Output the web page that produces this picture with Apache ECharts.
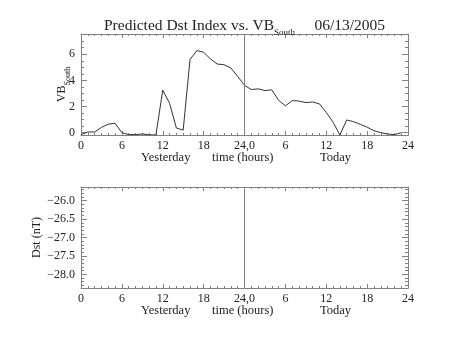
<!DOCTYPE html>
<html>
<head>
<meta charset="utf-8">
<script src="https://cdn.jsdelivr.net/npm/echarts@6/dist/echarts.min.js"></script>
<style>
  html, body { margin: 0; padding: 0; background: #fff; }
  #chart { width: 453px; height: 340px; }
</style>
</head>
<body>
<div id="chart"></div>
<script>
// Hours of the two-day window (yesterday 0-23, today 24-47)
const hours = [0, 1, 2, 3, 4, 5, 6, 7, 8, 9, 10, 11,
  12, 13, 14, 15, 16, 17, 18, 19, 20, 21, 22, 23,
  24, 25, 26, 27, 28, 29, 30, 31, 32, 33, 34, 35,
  36, 37, 38, 39, 40, 41, 42, 43, 44, 45, 46, 47];

// Southward V*B (solar wind), hourly
const vbSouth = [-0.15, 0.05, 0.05, 0.4, 0.65, 0.72, 0.0, -0.15, -0.15, -0.1, -0.17, -0.17,
  3.25, 2.25, 0.35, 0.2, 5.6, 6.28, 6.15, 5.64, 5.25, 5.2, 4.95, 4.3,
  3.62, 3.3, 3.35, 3.22, 3.28, 2.48, 2.05, 2.45, 2.42, 2.3, 2.35, 2.2,
  1.55, 0.8, -0.18, 0.97, 0.84, 0.64, 0.42, 0.15, 0.0, -0.1, -0.15, 0.0];

// Predicted Dst (no values available in this window)
const dstPredicted = [];

// Axis ranges and ticks
const xTickValues = [0, 6, 12, 18, 24, 30, 36, 42, 48];
const xTickLabels = ['0', '6', '12', '18', '24,0', '6', '12', '18', '24'];
const dayBoundary = 24;

const vbRange = [-0.18, 7.55];
const vbTickValues = [0, 2, 4, 6];
const vbTickLabels = ['0', '2', '4', '6'];
const vbMinorStep = 0.5;

const dstRange = [-28.37, -25.63];
const dstTickValues = [-26.0, -26.5, -27.0, -27.5, -28.0];
const dstTickLabels = ['\u221226.0', '\u221226.5', '\u221227.0', '\u221227.5', '\u221228.0'];
const dstMinorStep = 0.1;

const FONT = 'Liberation Serif';
const TEXT = '#222';
const FRAME = '#808080';

function minorValues(range, step) {
  const out = [];
  const start = Math.ceil(range[0] / step - 1e-9);
  const end = Math.floor(range[1] / step + 1e-9);
  for (let k = start; k <= end; k++) out.push(+(k * step).toFixed(4));
  return out;
}

function xAxes(grid) {
  const base = {
    type: 'value', gridIndex: grid, min: 0, max: 48, interval: 6,
    axisLine: { show: true, onZero: false, lineStyle: { color: FRAME, width: 1 } },
    axisTick: { show: true, inside: true, length: 4, lineStyle: { color: FRAME } },
    minorTick: { show: true, splitNumber: 6, length: 2, lineStyle: { color: FRAME } },
    splitLine: { show: false }, minorSplitLine: { show: false }
  };
  return [
    Object.assign({}, base, {
      position: 'bottom',
      axisLabel: {
        show: true, margin: 5, fontFamily: FONT, fontSize: 12, color: TEXT,
        formatter: v => xTickLabels[xTickValues.indexOf(v)]
      }
    }),
    Object.assign({}, base, { position: 'top', axisLabel: { show: false } })
  ];
}

function yAxes(grid, range, majors, labels, minorStep, name, nameGap, rich) {
  const minors = minorValues(range, minorStep);
  const common = {
    type: 'value', gridIndex: grid, min: range[0], max: range[1],
    splitLine: { show: false }
  };
  const label = {
    show: true, margin: 6, fontFamily: FONT, fontSize: 12, color: TEXT,
    customValues: majors,
    formatter: v => labels[majors.findIndex(m => Math.abs(m - v) < 1e-6)]
  };
  return [
    Object.assign({}, common, {
      position: 'left',
      axisLine: { show: true, onZero: false, lineStyle: { color: FRAME } },
      axisTick: { show: true, inside: true, length: 6, customValues: majors, lineStyle: { color: FRAME } },
      axisLabel: label,
      name: name, nameLocation: 'middle', nameRotate: 90, nameGap: nameGap,
      nameMoveOverlap: false,
      nameTextStyle: { fontFamily: FONT, fontSize: 12, color: TEXT, rich: rich }
    }),
    Object.assign({}, common, {
      position: 'left',
      axisLine: { show: false, onZero: false },
      axisTick: { show: true, inside: true, length: 3, customValues: minors, lineStyle: { color: FRAME } },
      axisLabel: { show: false }
    }),
    Object.assign({}, common, {
      position: 'right',
      axisLine: { show: true, onZero: false, lineStyle: { color: FRAME } },
      axisTick: { show: true, inside: true, length: 6, customValues: majors, lineStyle: { color: FRAME } },
      axisLabel: { show: false }
    }),
    Object.assign({}, common, {
      position: 'right',
      axisLine: { show: false, onZero: false },
      axisTick: { show: true, inside: true, length: 3, customValues: minors, lineStyle: { color: FRAME } },
      axisLabel: { show: false }
    })
  ];
}

const subRich = {
  a: { fontFamily: FONT, fontSize: 12, color: TEXT, lineHeight: 14, verticalAlign: 'top' },
  s: { fontFamily: FONT, fontSize: 8, color: TEXT, lineHeight: 8, verticalAlign: 'top', padding: [8, 0, 0, 0] }
};

const boundaryMark = {
  silent: true, symbol: 'none', animation: false,
  label: { show: false },
  lineStyle: { color: FRAME, width: 1, type: 'solid' },
  data: [{ xAxis: dayBoundary }]
};

const chart = echarts.init(document.getElementById('chart'), null, { renderer: 'canvas' });
chart.setOption({
  animation: false,
  backgroundColor: '#fff',
  title: {
    text: '{a|Predicted Dst Index vs. VB}{s|South}{a|     06/13/2005}',
    left: 99, top: 13,
    textStyle: {
      fontWeight: 'normal',
      rich: {
        a: { fontFamily: FONT, fontSize: 15.5, fontWeight: 'normal', color: TEXT, lineHeight: 16, verticalAlign: 'top' },
        s: { fontFamily: FONT, fontSize: 9, fontWeight: 'normal', color: TEXT, lineHeight: 9, verticalAlign: 'top', padding: [10, 0, 0, 0] }
      }
    }
  },
  grid: [
    { left: 81, top: 34, width: 327, height: 101 },
    { left: 81, top: 187, width: 327, height: 101 }
  ],
  xAxis: xAxes(0).concat(xAxes(1)),
  yAxis: yAxes(0, vbRange, vbTickValues, vbTickLabels, vbMinorStep,
               '{a|VB}{s|South}', 11, subRich)
    .concat(yAxes(1, dstRange, dstTickValues, dstTickLabels, dstMinorStep,
               'Dst (nT)', 38, undefined)),
  graphic: [
    { type: 'text', left: 141, top: 151, style: { text: 'Yesterday', font: '12.5px "Liberation Serif"', fill: TEXT } },
    { type: 'text', left: 212, top: 151, style: { text: 'time (hours)', font: '12.5px "Liberation Serif"', fill: TEXT } },
    { type: 'text', left: 320, top: 151, style: { text: 'Today', font: '12.5px "Liberation Serif"', fill: TEXT } },
    { type: 'text', left: 141, top: 304, style: { text: 'Yesterday', font: '12.5px "Liberation Serif"', fill: TEXT } },
    { type: 'text', left: 212, top: 304, style: { text: 'time (hours)', font: '12.5px "Liberation Serif"', fill: TEXT } },
    { type: 'text', left: 320, top: 304, style: { text: 'Today', font: '12.5px "Liberation Serif"', fill: TEXT } }
  ],
  series: [
    {
      type: 'line', xAxisIndex: 0, yAxisIndex: 0,
      data: hours.map((h, i) => [h, vbSouth[i]]),
      symbol: 'none', lineStyle: { color: '#333', width: 1 },
      markLine: boundaryMark
    },
    {
      type: 'line', xAxisIndex: 2, yAxisIndex: 4,
      data: dstPredicted,
      symbol: 'none', lineStyle: { color: '#333', width: 1 },
      markLine: boundaryMark
    }
  ]
});
</script>
</body>
</html>
